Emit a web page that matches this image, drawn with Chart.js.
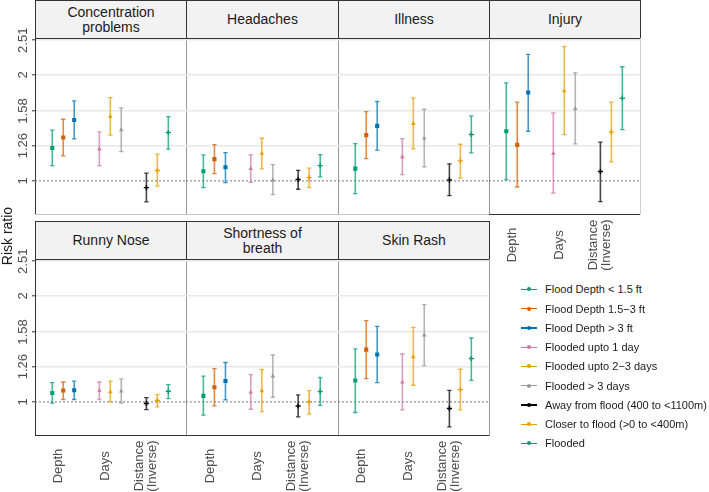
<!DOCTYPE html>
<html>
<head>
<meta charset="utf-8">
<script src="https://cdn.jsdelivr.net/npm/chart.js@4.4.0/dist/chart.umd.min.js"></script>
<style>
  body { margin: 0; background: #fff; font-family: "Liberation Sans", Arial, sans-serif; }
  #wrap { position: relative; width: 709px; height: 492px; overflow: hidden; }
  #wrap canvas { position: absolute; }
  .strip { position: absolute; box-sizing: border-box; background: #f2f2f2; border: 1px solid #333;
           display: flex; align-items: center; justify-content: center; text-align: center;
           font-size: 14px; line-height: 15px; color: #1a1a1a; white-space: pre; }
  .frame { position: absolute; box-sizing: border-box; pointer-events: none; }
  .ytitle { position: absolute; left: -23px; top: 228px; width: 60px; text-align: center;
            font-size: 14px; color: #1a1a1a; transform: rotate(-90deg); white-space: nowrap; }
  .lg { position: absolute; left: 521px; height: 19px; display: flex; align-items: center;
        font-size: 11px; color: #1a1a1a; white-space: nowrap; }
  .sym { position: relative; width: 16px; height: 19px; margin-right: 8px; }
  .sym i { position: absolute; left: 0; top: 9px; width: 16px; height: 1.3px; }
  .sym b { position: absolute; left: 6px; top: 7.6px; width: 4px; height: 4px; border-radius: 50%; }
</style>
</head>
<body>
<div id="wrap"></div>
<script>
// ---- data (risk ratio: estimate, lower, upper) ----
const panelNames = ['Concentration\nproblems', 'Headaches', 'Illness', 'Injury',
                    'Runny Nose', 'Shortness of\nbreath', 'Skin Rash'];
const seriesNames = ['Flood Depth < 1.5 ft', 'Flood Depth 1.5\u22123 ft', 'Flood Depth > 3 ft',
                     'Flooded upto 1 day', 'Flooded upto 2\u22123 days', 'Flooded > 3 days',
                     'Away from flood (400 to <1100m)', 'Closer to flood (>0 to <400m)', 'Flooded'];
const seriesGroup = [0, 0, 0, 1, 1, 1, 2, 2, 2];
const seriesDodge = [-1, 0, 1, -1, 0, 1, -1, 0, 1];
const groupLabels = ['Depth', 'Days', 'Distance\n(Inverse)'];
const yTicks = [1, 1.26, 1.58, 2, 2.51];

const rrConcentration = [
  [1.240, 1.105, 1.394], [1.328, 1.178, 1.497], [1.490, 1.316, 1.688],
  [1.231, 1.105, 1.378], [1.523, 1.349, 1.725], [1.396, 1.211, 1.613],
  [0.957, 0.872, 1.052], [1.070, 0.966, 1.191], [1.372, 1.231, 1.523]];
const rrHeadaches = [
  [1.065, 0.957, 1.186], [1.153, 1.049, 1.268], [1.094, 0.989, 1.204],
  [1.084, 0.991, 1.186], [1.196, 1.082, 1.322], [1.005, 0.914, 1.113],
  [1.009, 0.947, 1.072], [1.022, 0.957, 1.087], [1.105, 1.027, 1.188]];
const rrIllness = [
  [1.084, 0.920, 1.277], [1.349, 1.157, 1.574], [1.433, 1.223, 1.681],
  [1.170, 1.042, 1.319], [1.455, 1.233, 1.722], [1.322, 1.096, 1.598],
  [1.007, 0.908, 1.118], [1.140, 1.018, 1.271], [1.355, 1.201, 1.530]];
const rrInjury = [
  [1.384, 1.009, 1.900], [1.266, 0.961, 1.674], [1.783, 1.384, 2.287],
  [1.196, 0.923, 1.560], [1.802, 1.354, 2.409], [1.603, 1.274, 2.028],
  [1.063, 0.873, 1.288], [1.376, 1.132, 1.674], [1.718, 1.399, 2.110]];
const rrRunnyNose = [
  [1.060, 0.992, 1.135], [1.077, 1.016, 1.139], [1.079, 1.016, 1.145],
  [1.077, 1.016, 1.139], [1.068, 1.000, 1.145], [1.072, 0.992, 1.162],
  [0.990, 0.951, 1.029], [1.009, 0.968, 1.049], [1.072, 1.022, 1.120]];
const rrShortness = [
  [1.040, 0.917, 1.183], [1.101, 0.974, 1.244], [1.147, 1.013, 1.294],
  [1.065, 0.953, 1.196], [1.075, 0.939, 1.236], [1.183, 1.031, 1.359],
  [0.974, 0.907, 1.047], [1.000, 0.923, 1.077], [1.070, 0.977, 1.173]];
const rrSkinRash = [
  [1.150, 0.933, 1.414], [1.408, 1.165, 1.702], [1.363, 1.135, 1.640],
  [1.137, 0.949, 1.368], [1.342, 1.115, 1.629], [1.546, 1.268, 1.890],
  [0.958, 0.849, 1.079], [1.084, 0.949, 1.238], [1.328, 1.152, 1.519]];

const panelData = [rrConcentration, rrHeadaches, rrIllness, rrInjury, rrRunnyNose, rrShortness, rrSkinRash];

// ---- styles / layout ----
const colors = ['#009E73', '#D55E00', '#0072B2', '#CC79A7', '#E69F00', '#999999', '#000000', '#E69F00', '#009E73'];
const markers = ['rect', 'triangle', 'cross'];
const colEdges = [35, 186, 338, 489, 640];
const stripTop = [0, 221], stripH = 38, plotTop = [38, 259], plotH = 176;
const yMin = Math.pow(10, -0.094), yMax = Math.pow(10, 0.406);
const dodge = 0.233;
const padTop = 20, padBottom = 62;

function fade(hex, a) {
  const n = parseInt(hex.slice(1), 16);
  return 'rgba(' + (n >> 16) + ',' + ((n >> 8) & 255) + ',' + (n & 255) + ',' + a + ')';
}

// draws the rotated tick labels
const facetText = {
  id: 'facet',
  afterDraw(chart, args, opts) {
    const ctx = chart.ctx, area = chart.chartArea;
    ctx.save();
    ctx.fillStyle = '#4d4d4d';
    ctx.font = '13px "Liberation Sans", Arial, sans-serif';
    ctx.textAlign = 'center';
    ctx.textBaseline = 'middle';
    if (opts.yLabels) {
      const ys = chart.scales.y;
      yTicks.forEach(v => {
        ctx.save();
        ctx.translate(area.left - 12, ys.getPixelForValue(v));
        ctx.rotate(-Math.PI / 2);
        ctx.fillText(String(v), 0, 0);
        ctx.restore();
      });
    }
    if (opts.xLabels) {
      const xs = chart.scales.x;
      groupLabels.forEach((lab, g) => {
        const lines = lab.split('\n');
        const px = xs.getPixelForValue(g + 1);
        lines.forEach((ln, k) => {
          ctx.save();
          ctx.translate(px - 4.5 - (lines.length - 1 - k) * 13, area.bottom + 31);
          ctx.rotate(-Math.PI / 2);
          ctx.fillText(ln, 0, 0);
          ctx.restore();
        });
      });
    }
    ctx.restore();
  }
};

const wrap = document.getElementById('wrap');

panelNames.forEach((name, p) => {
  const row = p < 4 ? 0 : 1;
  const col = p < 4 ? p : p - 4;
  const left = colEdges[col], w = colEdges[col + 1] - left;
  const isLeft = col === 0;
  const hasX = row === 1 || p === 3;

  const strip = document.createElement('div');
  strip.className = 'strip';
  strip.style.left = left + 'px';
  strip.style.top = stripTop[row] + 'px';
  strip.style.width = (w + 1) + 'px';
  strip.style.height = (stripH + 1) + 'px';
  strip.textContent = name;
  wrap.appendChild(strip);

  const canvas = document.createElement('canvas');
  const cw = w + 40, ch = plotH + padTop + padBottom;
  canvas.width = cw; canvas.height = ch;
  canvas.style.width = cw + 'px'; canvas.style.height = ch + 'px';
  canvas.style.left = (left - 35) + 'px';
  canvas.style.top = (plotTop[row] - padTop) + 'px';
  wrap.appendChild(canvas);

  const datasets = [{
    data: [{ x: 0.4, y: 1 }, { x: 3.6, y: 1 }],
    showLine: true, borderColor: '#777', borderWidth: 1, borderDash: [2, 2],
    pointRadius: 0, order: 3
  }];
  panelData[p].forEach((r, i) => {
    const x = seriesGroup[i] + 1 + seriesDodge[i] * dodge;
    datasets.push({
      data: [{ x: x, y: r[1] }, { x: x, y: r[2] }],
      showLine: true, borderColor: fade(colors[i], 0.72), borderWidth: 1.6,
      pointStyle: 'line', pointRadius: 2.2, pointBorderWidth: 1.3,
      pointBorderColor: fade(colors[i], 0.72), order: 2
    });
    const m = markers[seriesGroup[i]];
    datasets.push({
      data: [{ x: x, y: r[0] }],
      pointStyle: m, pointRadius: m === 'rect' ? 2.9 : 2.6,
      pointBackgroundColor: colors[i], pointBorderColor: colors[i],
      pointBorderWidth: m === 'cross' ? 1.4 : 0, order: 1
    });
  });

  new Chart(canvas, {
    type: 'scatter',
    data: { datasets: datasets },
    plugins: [facetText],
    options: {
      responsive: false,
      animation: false,
      events: [],
      layout: { padding: { left: 32, right: 5, top: padTop, bottom: padBottom } },
      plugins: {
        legend: { display: false },
        tooltip: { enabled: false },
        facet: { yLabels: isLeft, xLabels: hasX }
      },
      scales: {
        x: {
          type: 'linear', min: 0.4, max: 3.6,
          ticks: { display: false },
          grid: { display: false, drawTicks: false },
          border: { display: hasX, color: '#333', width: 1 }
        },
        y: {
          type: 'logarithmic', min: yMin, max: yMax,
          afterBuildTicks: s => { s.ticks = yTicks.map(v => ({ value: v })); },
          ticks: { display: false },
          grid: {
            color: c => (c.tick && c.tick.value === 1) ? 'rgba(0,0,0,0)' : '#e8e8e8',
            lineWidth: 1.6, drawTicks: true, tickLength: 3, tickWidth: 1,
            tickColor: isLeft ? '#333' : 'rgba(0,0,0,0)'
          },
          border: { display: isLeft, color: '#333', width: 1 }
        }
      }
    }
  });

  const frame = document.createElement('div');
  frame.className = 'frame';
  frame.style.left = left + 'px';
  frame.style.top = plotTop[row] + 'px';
  frame.style.width = (w + 1) + 'px';
  frame.style.height = (plotH + 1) + 'px';
  frame.style.borderRight = '1px solid ' + (p === 3 ? '#d0d0d0' : '#9a9a9a');
  if (!hasX) frame.style.borderBottom = '1px solid #c8c8c8';
  wrap.appendChild(frame);
});

const yTitle = document.createElement('div');
yTitle.className = 'ytitle';
yTitle.textContent = 'Risk ratio';
wrap.appendChild(yTitle);

seriesNames.forEach((s, i) => {
  const row = document.createElement('div');
  row.className = 'lg';
  row.style.top = (279.8 + i * 19.25) + 'px';
  row.innerHTML = '<span class="sym"><i style="background:' + colors[i] + '"></i><b style="background:' +
    colors[i] + '"></b></span>';
  row.appendChild(document.createTextNode(s));
  wrap.appendChild(row);
});
</script>
</body>
</html>
